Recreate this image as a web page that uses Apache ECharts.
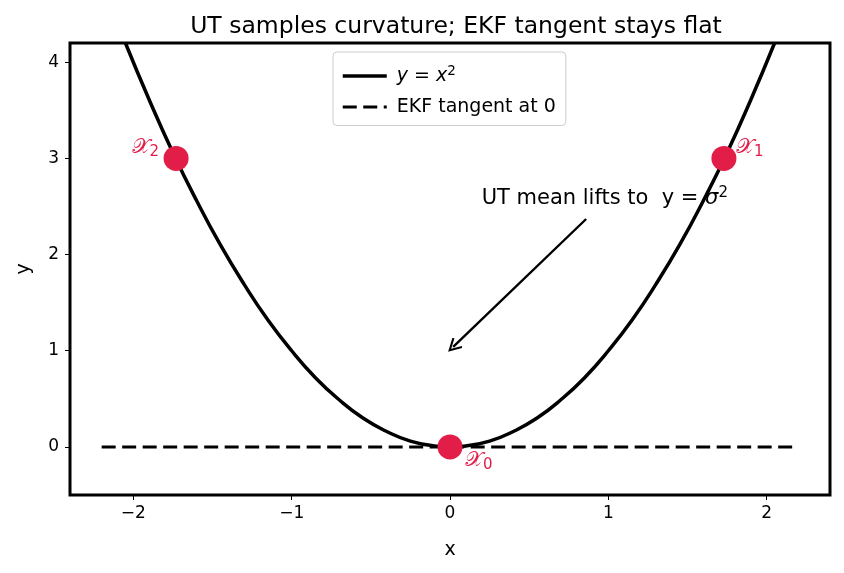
<!DOCTYPE html>
<html>
<head>
<meta charset="utf-8">
<script src="https://cdn.jsdelivr.net/npm/echarts@6/dist/echarts.min.js"></script>
<style>html,body{margin:0;padding:0;background:#fff}#chart{width:844px;height:573px}</style>
</head>
<body>
<div id="chart"></div>
<script>
// curve y = x^2
var curveX = [-2.05, -1.9, -1.75, -1.6, -1.45, -1.3, -1.15, -1.0, -0.85, -0.7, -0.55, -0.4, -0.25, -0.1, 0,
              0.1, 0.25, 0.4, 0.55, 0.7, 0.85, 1.0, 1.15, 1.3, 1.45, 1.6, 1.75, 1.9, 2.05];
var curveY = [4.2, 3.61, 3.06, 2.56, 2.1, 1.69, 1.32, 1.0, 0.72, 0.49, 0.3, 0.16, 0.06, 0.01, 0,
              0.01, 0.06, 0.16, 0.3, 0.49, 0.72, 1.0, 1.32, 1.69, 2.1, 2.56, 3.06, 3.61, 4.2];
// EKF tangent at 0
var tangentX = [-2.2, 2.2];
var tangentY = [0, 0];
// sigma points
var sigmaX = [0, 1.73, -1.73];
var sigmaY = [0, 3, 3];
var sigmaNames = ['0', '1', '2'];
var xTicks = [-2, -1, 0, 1, 2];
var yTicks = [0, 1, 2, 3, 4];

var red = '#e21d48';
var font = 'DejaVu Sans';

// where each sigma label sits relative to its marker
var labelPlace = [
  { offset: [15, 14], align: 'left' },
  { offset: [12, -11], align: 'left' },
  { offset: [-17, -11], align: 'right' }
];

var sigmaData = sigmaX.map(function (x, i) {
  return {
    value: [x, sigmaY[i]],
    label: {
      show: true,
      position: 'inside',
      offset: labelPlace[i].offset,
      align: labelPlace[i].align,
      verticalAlign: 'middle',
      formatter: '{s|𝒳}{b|' + sigmaNames[i] + '}',
      rich: {
        s: { fontSize: 21, color: red, fontFamily: font },
        b: { fontSize: 15, color: red, fontFamily: font, padding: [9, 0, 0, 0] }
      }
    }
  };
});

var chart = echarts.init(document.getElementById('chart'));
chart.setOption({
  animation: false,
  textStyle: { fontFamily: font },
  title: {
    text: 'UT samples curvature; EKF tangent stays flat',
    left: 451, top: 10, textAlign: 'center',
    textStyle: { fontSize: 23.5, fontWeight: 'normal', color: '#000', fontFamily: font }
  },
  grid: { left: 70, right: 14, top: 43, bottom: 78, show: true, borderColor: '#000', borderWidth: 3, backgroundColor: 'transparent' },
  legend: {
    orient: 'vertical', left: 333, top: 52,
    padding: [12, 10, 9, 8],
    itemWidth: 44, itemHeight: 16, itemGap: 12,
    borderColor: '#cccccc', borderWidth: 1, borderRadius: 4, backgroundColor: '#fff',
    data: [
      { name: 'y = x^2', lineStyle: { width: 3.5 } },
      { name: 'EKF tangent at 0', lineStyle: { width: 3, type: [14, 6.5] } }
    ],
    itemStyle: { color: 'rgba(0,0,0,0)', borderColor: 'rgba(0,0,0,0)', borderWidth: 0 },
    formatter: function (name) {
      if (name === 'y = x^2') return '{i|y} = {i|x}{sup|2}';
      return name;
    },
    textStyle: {
      fontSize: 19, color: '#000', fontFamily: font, padding: [0, 0, 0, 5],
      rich: {
        i: { fontSize: 19, fontStyle: 'italic', fontFamily: font, color: '#000' },
        sup: { fontSize: 13.5, fontFamily: font, color: '#000', padding: [0, 0, 10, 0] }
      }
    }
  },
  xAxis: {
    type: 'value', min: -2.4, max: 2.4,
    name: 'x', nameLocation: 'middle', nameGap: 46,
    nameTextStyle: { fontSize: 19, color: '#000' },
    axisLine: { show: false, onZero: false },
    splitLine: { show: false },
    axisTick: { show: true, length: 5, customValues: xTicks, lineStyle: { color: '#000' } },
    axisLabel: { customValues: xTicks, fontSize: 17, color: '#000', margin: 10,
      formatter: function (v) { return v < 0 ? '\u2212' + Math.abs(v) : String(v); } }
  },
  yAxis: {
    type: 'value', min: -0.5, max: 4.2,
    name: 'y', nameLocation: 'middle', nameGap: 36,
    nameTextStyle: { fontSize: 19, color: '#000' },
    axisLine: { show: false, onZero: false },
    splitLine: { show: false },
    axisTick: { show: true, length: 5, customValues: yTicks, lineStyle: { color: '#000' } },
    axisLabel: { customValues: yTicks, fontSize: 17, color: '#000', margin: 11 }
  },
  series: [
    {
      name: 'y = x^2', type: 'line', smooth: true, symbol: 'none', clip: true,
      lineStyle: { color: '#000', width: 3.5 }, itemStyle: { color: '#000' },
      data: curveX.map(function (x, i) { return [x, curveY[i]]; }),
      z: 2
    },
    {
      name: 'EKF tangent at 0', type: 'line', symbol: 'none',
      lineStyle: { color: '#000', width: 3, type: [14, 6.5] }, itemStyle: { color: '#000' },
      data: tangentX.map(function (x, i) { return [x, tangentY[i]]; }),
      z: 2
    },
    {
      name: 'sigma', type: 'scatter', symbolSize: 25,
      itemStyle: { color: red, opacity: 1 },
      data: sigmaData,
      z: 5
    },
    {
      name: 'note', type: 'scatter', symbolSize: 0,
      itemStyle: { opacity: 1 },
      data: [{
        value: [0.2, 2.58],
        label: {
          show: true, position: 'inside', align: 'left', verticalAlign: 'middle',
          formatter: '{t|UT mean lifts to  y = }{g|σ}{sup|2}',
          rich: {
            t: { fontSize: 21, color: '#000', fontFamily: font },
            g: { fontSize: 21, fontStyle: 'italic', color: '#000', fontFamily: font },
            sup: { fontSize: 15, color: '#000', fontFamily: font, padding: [0, 0, 11, 0] }
          }
        }
      }],
      markLine: {
        silent: true,
        symbol: ['none', 'path://M0,0 L6,9 L4.6,10 L0,3 L-4.6,10 L-6,9 Z'],
        symbolSize: 14,
        label: { show: false },
        lineStyle: { color: '#000', width: 2.4, type: 'solid', opacity: 1 },
        data: [[{ coord: [0.86, 2.37] }, { coord: [0.02, 1.04] }]]
      },
      z: 6
    }
  ]
});
</script>
</body>
</html>
